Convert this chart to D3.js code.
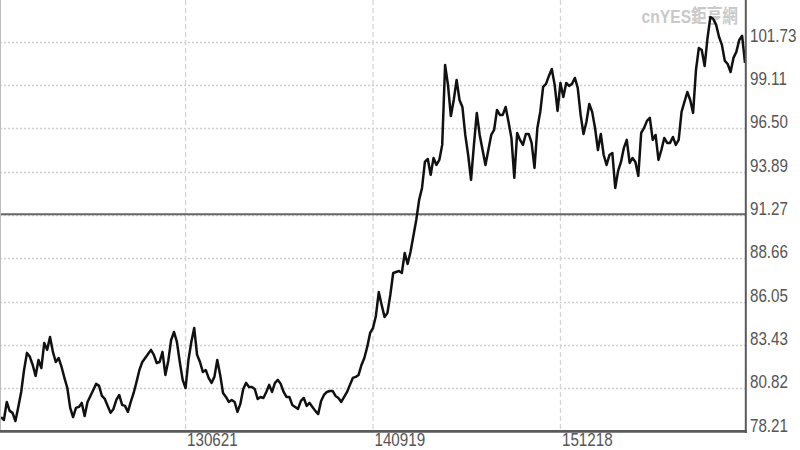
<!DOCTYPE html>
<html><head><meta charset="utf-8">
<script src="https://cdn.jsdelivr.net/npm/d3@7"></script>
<style>
html,body{margin:0;padding:0;background:#fff;}
svg{display:block;}
</style></head>
<body>
<svg id="chart" width="800" height="450"></svg>
<script>
// ---- data (weekly closes) ----
const startDate = "2012-03-30";
const values = [
79.09,78.91,80.00,79.46,79.34,78.85,79.70,80.60,81.93,82.96,
82.72,82.23,81.57,82.53,82.05,83.56,83.14,83.92,83.02,82.41,
82.65,82.11,81.45,80.84,79.64,79.09,79.64,79.70,79.94,79.15,
80.00,80.36,80.72,81.09,80.97,80.36,80.18,79.76,79.34,79.58,
80.12,80.42,79.82,79.76,79.40,80.00,80.54,81.21,81.93,82.41,
82.65,82.89,83.14,82.84,82.35,82.41,83.02,81.63,82.47,83.74,
84.22,83.62,82.41,81.33,80.84,82.53,83.62,84.46,82.84,82.41,
81.81,81.93,81.45,81.15,81.51,82.53,81.63,80.54,80.30,80.00,
80.12,80.00,79.40,79.88,80.78,81.15,80.90,80.90,80.78,80.18,
80.30,80.24,80.60,81.03,80.60,81.15,81.33,81.09,80.60,80.30,
80.30,79.82,79.70,79.58,80.06,80.24,79.76,79.94,79.70,79.46,
79.27,80.06,80.42,80.60,80.66,80.66,80.36,80.24,80.00,80.30,
80.60,81.03,81.45,81.51,81.63,82.23,82.65,83.32,84.16,84.46,
85.19,86.63,85.85,85.13,85.37,86.45,87.78,87.84,87.90,87.78,
88.99,88.32,89.05,90.01,90.98,92.19,92.91,94.48,94.66,93.70,
94.72,94.30,94.60,95.51,100.33,99.13,97.25,98.22,99.43,98.22,
97.80,96.11,94.90,93.40,95.51,97.44,96.11,95.20,94.30,95.20,
96.11,96.41,97.62,97.32,97.32,97.80,96.89,95.93,93.52,96.23,
95.81,95.51,96.17,96.17,95.63,94.12,96.53,97.50,99.01,99.19,
99.67,100.09,99.13,97.56,99.25,98.40,99.25,99.07,99.19,99.55,
98.95,97.32,96.17,96.89,97.98,97.50,96.53,95.20,96.17,94.90,
94.30,94.90,95.02,92.91,93.94,94.48,95.33,95.81,94.42,94.72,
94.48,93.64,96.23,96.53,96.96,97.14,95.81,96.11,94.60,95.20,
95.93,95.63,95.63,95.99,95.51,95.81,97.50,98.10,98.70,98.22,
97.44,100.03,101.36,101.24,100.27,101.96,103.23,103.11,102.75,102.02,
101.54,100.58,100.39,99.91,100.76,101.12,101.84,102.09,100.46
];
const yTicks = [78.21, 80.82, 83.43, 86.05, 88.66, 91.27, 93.89, 96.50, 99.11, 101.73];
const xTickDates = ["2013-06-21", "2014-09-19", "2015-12-18"];
const xTickLabels = ["130621", "140919", "151218"];
const refLine = 91.27;
const watermark = "cnYES鉅亨網";

// ---- layout ----
const parse = d3.timeParse("%Y-%m-%d");
const start = parse(startDate);
const data = values.map((v, i) => ({ date: d3.timeDay.offset(start, 7 * i), value: v }));

const plotLeft = 1, plotRight = 745, plotBottom = 431.6;
const x = d3.scaleTime()
  .domain([data[0].date, data[data.length - 1].date])
  .range([plotLeft, plotRight]);
const y = d3.scaleLinear()
  .domain([yTicks[0], yTicks[yTicks.length - 1]])
  .range([plotBottom, 41.8]);

const svg = d3.select("#chart");
const fontFam = "'Liberation Sans', Arial, sans-serif";

// horizontal dotted gridlines
svg.append("g").selectAll("line")
  .data(yTicks.slice(1))
  .join("line")
  .attr("x1", 0).attr("x2", 746)
  .attr("y1", d => Math.round(y(d)) + 0.5).attr("y2", d => Math.round(y(d)) + 0.5)
  .attr("stroke", "#cfcfcf").attr("stroke-width", 1.3)
  .attr("stroke-dasharray", "2,2");

// vertical dashed gridlines
const tickDates = xTickDates.map(parse);
svg.append("g").selectAll("line")
  .data(tickDates)
  .join("line")
  .attr("x1", d => x(d)).attr("x2", d => x(d))
  .attr("y1", 0).attr("y2", plotBottom)
  .attr("stroke", "#d4d4d4").attr("stroke-width", 1.3)
  .attr("stroke-dasharray", "5,3");

// reference line
svg.append("line")
  .attr("x1", 0).attr("x2", 746)
  .attr("y1", y(refLine) - 0.8).attr("y2", y(refLine) - 0.8)
  .attr("stroke", "#666").attr("stroke-width", 2);

// watermark
svg.append("text")
  .attr("transform", "translate(738,23) scale(0.92,1.12)")
  .attr("text-anchor", "end")
  .attr("font-family", fontFam + ", 'Noto Sans CJK TC'")
  .attr("font-weight", "bold")
  .attr("font-size", 17)
  .attr("fill", "#c9c9c9")
  .text(watermark);

// data line
svg.append("path")
  .datum(data)
  .attr("fill", "none")
  .attr("stroke", "#111")
  .attr("stroke-width", 2.5)
  .attr("stroke-linejoin", "round")
  .attr("d", d3.line().x(d => x(d.date)).y(d => y(d.value)));

// borders
svg.append("line").attr("x1", 0.5).attr("x2", 0.5).attr("y1", 0).attr("y2", plotBottom)
  .attr("stroke", "#bdbdbd").attr("stroke-width", 1);
svg.append("line").attr("x1", 745.8).attr("x2", 745.8).attr("y1", 0).attr("y2", 433)
  .attr("stroke", "#5a5a5a").attr("stroke-width", 2);
svg.append("line").attr("x1", 0).attr("x2", 747).attr("y1", 431.4).attr("y2", 431.4)
  .attr("stroke", "#5a5a5a").attr("stroke-width", 2.6);

// y axis labels (right)
const yAxis = d3.axisRight(y)
  .tickValues(yTicks)
  .tickFormat(d => d.toFixed(2))
  .tickSize(0).tickPadding(4);
const gy = svg.append("g").attr("transform", "translate(746,0)").call(yAxis);
gy.select(".domain").remove();
gy.selectAll("text")
  .attr("dy", 0)
  .attr("x", 0).attr("y", 0)
  .attr("transform", "translate(4,-0.5) scale(0.92,1.15)")
  .attr("font-family", fontFam)
  .attr("font-size", 16.5)
  .attr("fill", "#555");

// x axis labels (bottom)
const xAxis = d3.axisBottom(x)
  .tickValues(tickDates)
  .tickFormat((d, i) => xTickLabels[i])
  .tickSize(0).tickPadding(0);
const gx = svg.append("g").attr("transform", `translate(0,${plotBottom})`).call(xAxis);
gx.select(".domain").remove();
gx.selectAll("text")
  .attr("text-anchor", "start")
  .attr("dy", 0)
  .attr("x", 0).attr("y", 0)
  .attr("transform", "translate(1,14) scale(0.92,1.15)")
  .attr("font-family", fontFam)
  .attr("font-size", 16.5)
  .attr("fill", "#555");
</script>
</body></html>
